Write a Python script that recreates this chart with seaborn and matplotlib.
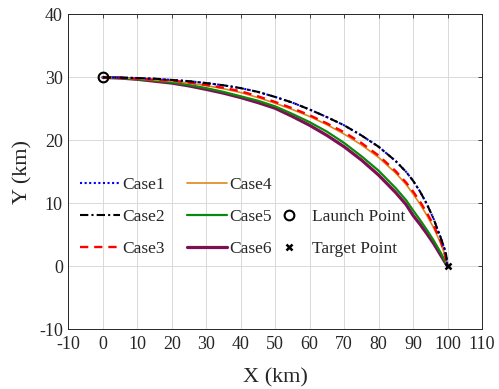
import matplotlib
matplotlib.use("Agg")
import matplotlib.pyplot as plt
from matplotlib.lines import Line2D
import seaborn as sns
import pandas as pd

# ---- data ----
x_outer = [0, 5, 10, 15, 20, 25, 30, 35, 40, 45, 50, 55, 60, 65, 70, 75, 80,
           85, 88, 90, 92, 94, 95, 96, 97, 98, 99, 99.6, 100]
y_case1 = [30, 29.97, 29.9, 29.8, 29.6, 29.4, 29.1, 28.75, 28.3, 27.7, 26.9, 26.0,
           24.9, 23.7, 22.4, 20.8, 19.0, 16.7, 15.0, 13.6, 11.9, 9.9, 8.7, 7.5,
           6.0, 4.6, 3.0, 1.8, 0]
y_case2 = [30, 29.97, 29.9, 29.8, 29.6, 29.4, 29.1, 28.75, 28.3, 27.7, 26.9, 26.0,
           24.9, 23.7, 22.4, 20.8, 19.0, 16.7, 15.0, 13.6, 11.9, 9.9, 8.7, 7.5,
           6.0, 4.6, 3.0, 1.8, 0]

x_inner = [0, 5, 10, 15, 20, 25, 30, 35, 40, 45, 50, 55, 60, 65, 70, 75, 80,
           85, 88, 90, 92, 94, 96, 98, 99, 100]
y_case3 = [30, 29.95, 29.8, 29.65, 29.5, 29.2, 28.8, 28.35, 27.8, 27.0, 26.1, 25.1,
           24.0, 22.7, 21.3, 19.6, 17.6, 15.1, 13.3, 11.9, 10.3, 8.5, 6.5, 4.0, 2.4, 0]
y_case4 = [30, 29.95, 29.8, 29.6, 29.4, 29.1, 28.7, 28.2, 27.6, 26.8, 25.9, 24.9,
           23.8, 22.5, 21.0, 19.3, 17.3, 14.8, 13.0, 11.5, 9.9, 8.1, 6.1, 3.7, 2.2, 0]
y_case5 = [30, 29.9, 29.7, 29.5, 29.2, 28.8, 28.3, 27.7, 27.0, 26.3, 25.4, 24.2,
           22.9, 21.4, 19.6, 17.5, 15.2, 12.4, 10.5, 8.9, 7.4, 5.8, 4.1, 2.2, 1.1, 0]
y_case6 = [30, 29.9, 29.7, 29.4, 29.1, 28.65, 28.1, 27.5, 26.8, 26.0, 25.1, 23.8,
           22.4, 20.8, 19.0, 16.9, 14.5, 11.7, 9.8, 8.1, 6.7, 5.2, 3.6, 1.8, 0.9, 0]

launch_point = (0, 30)
target_point = (100, 0)

case_names = ["Case1", "Case2", "Case3", "Case4", "Case5", "Case6"]
point_names = ["Launch Point", "Target Point"]
xticks = list(range(-10, 111, 10))
yticks = list(range(-10, 41, 10))

frames = []
for name, xs, ys in [("Case1", x_outer, y_case1), ("Case2", x_outer, y_case2),
                     ("Case3", x_inner, y_case3), ("Case4", x_inner, y_case4),
                     ("Case5", x_inner, y_case5), ("Case6", x_inner, y_case6)]:
    frames.append(pd.DataFrame({"x": xs, "y": ys, "case": name}))
df = pd.concat(frames, ignore_index=True)

# ---- style ----
sns.set_style("white")
plt.rcParams["font.family"] = ["Liberation Serif", "DejaVu Serif"]
plt.rcParams["lines.solid_joinstyle"] = "round"
plt.rcParams["lines.dash_joinstyle"] = "round"

styles = {
    "Case1": dict(color="#0000FF", linestyle=(0, (1, 1.2)), linewidth=1.5),
    "Case2": dict(color="#000000", linestyle=(0, (4, 1.5, 1, 1.5)), linewidth=1.5),
    "Case3": dict(color="#FF0000", linestyle=(0, (3.5, 2.5)), linewidth=1.7),
    "Case4": dict(color="#E0861A", linestyle="-", linewidth=1.2),
    "Case5": dict(color="#0A8A0A", linestyle="-", linewidth=1.6),
    "Case6": dict(color="#7E0F55", linestyle="-", linewidth=2.3),
}
draw_order = ["Case6", "Case5", "Case4", "Case3", "Case1", "Case2"]

fig = plt.figure(figsize=(4.99, 3.89), dpi=100)
ax = fig.add_axes([0.137, 0.153, 0.829, 0.810])

for name in draw_order:
    sub = df[df["case"] == name]
    sns.lineplot(data=sub, x="x", y="y", ax=ax, sort=False, estimator=None,
                 legend=False, **styles[name])

marker_launch = dict(marker="o", markersize=7, markerfacecolor="none",
                     markeredgecolor="black", markeredgewidth=1.5, linestyle="none")
marker_target = dict(marker="x", markersize=5, color="black",
                     markeredgewidth=1.8, linestyle="none")
ax.plot([launch_point[0]], [launch_point[1]], zorder=5, **marker_launch)
ax.plot([target_point[0]], [target_point[1]], zorder=5, **marker_target)

ax.set_xlim(-10, 110)
ax.set_ylim(-10, 40)
ax.set_xticks(xticks)
ax.set_yticks(yticks)
ax.set_xticklabels([str(t) for t in xticks])
ax.set_yticklabels([str(t) for t in yticks])
ax.tick_params(direction="in", top=True, right=True, length=3, width=0.6,
               labelsize=13, colors="#262626")
ax.tick_params(axis="x", pad=5)
ax.tick_params(axis="y", pad=4)
ax.grid(True, color="#D9D9D9", linewidth=0.7)
for s in ax.spines.values():
    s.set_color("#262626")
    s.set_linewidth(0.7)
ax.set_xlabel("X (km)", fontsize=16, color="#262626", labelpad=11)
ax.set_ylabel("Y (km)", fontsize=16, color="#262626", labelpad=5)

# legend 1: the six cases in two columns
handles = [Line2D([], [], **styles[n]) for n in case_names]
leg1 = ax.legend(handles, case_names, ncol=2, frameon=False, fontsize=12.5,
                 loc="upper left", bbox_to_anchor=(0.160, 0.545),
                 bbox_transform=fig.transFigure, borderpad=0, borderaxespad=0,
                 handlelength=2.3, handletextpad=0.15, columnspacing=1.25,
                 labelspacing=0.9)
ax.add_artist(leg1)

# legend 2: launch / target points
ph = [Line2D([], [], **marker_launch), Line2D([], [], **marker_target)]
ax.legend(ph, point_names, ncol=1, frameon=False, fontsize=12.5,
          loc="upper left", bbox_to_anchor=(0.558, 0.463),
          bbox_transform=fig.transFigure, borderpad=0, borderaxespad=0,
          handlelength=1.2, handletextpad=0.75, labelspacing=0.9)

fig.savefig("out.png", dpi=100)
